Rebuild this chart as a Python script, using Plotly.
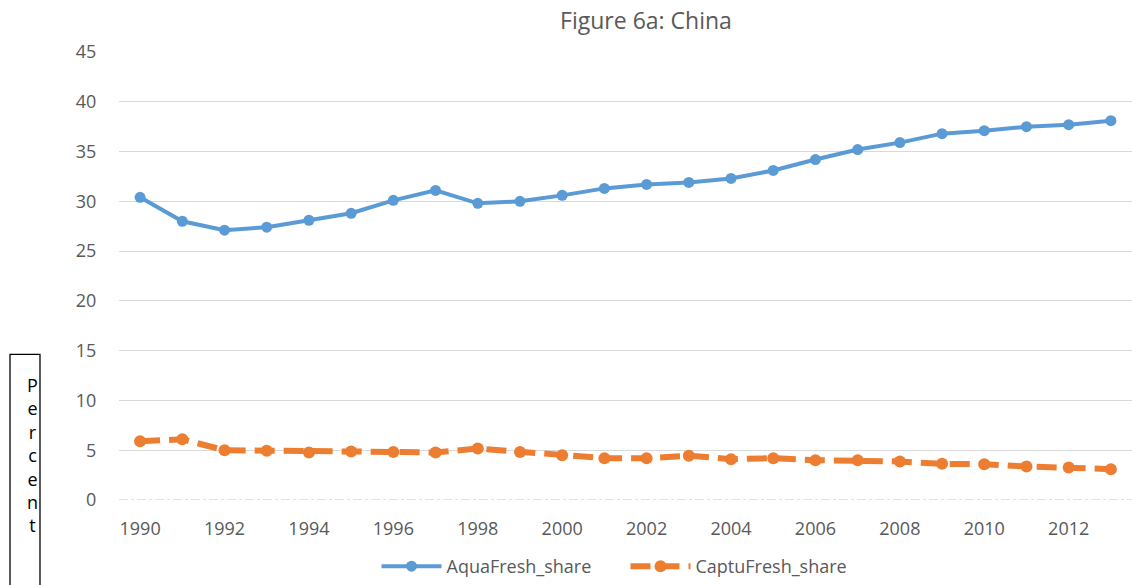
import plotly.graph_objects as go

years = list(range(1990, 2014))
aqua_share = [30.4, 28.0, 27.1, 27.4, 28.1, 28.8, 30.1, 31.1, 29.8, 30.0, 30.6, 31.3,
              31.7, 31.9, 32.3, 33.1, 34.2, 35.2, 35.9, 36.8, 37.1, 37.5, 37.7, 38.1]
captu_share = [5.9, 6.1, 5.0, 4.95, 4.77, 4.87, 4.83, 4.77, 5.17, 4.83, 4.5, 4.2,
               4.2, 4.45, 4.1, 4.2, 4.0, 4.0, 3.87, 3.63, 3.6, 3.37, 3.27, 3.1]
x_ticks = list(range(1990, 2014, 2))
y_ticks = list(range(0, 50, 5))

BLUE = "#5B9BD5"
ORANGE = "#ED7D31"
GRAY = "#595959"
FONT = "Open Sans"

fig = go.Figure()
fig.add_trace(go.Scatter(
    x=years, y=aqua_share, name="AquaFresh_share", mode="lines+markers",
    line=dict(color=BLUE, width=4), marker=dict(color=BLUE, size=11)))
fig.add_trace(go.Scatter(
    x=years, y=captu_share, name="CaptuFresh_share", mode="lines+markers",
    line=dict(color=ORANGE, width=6, dash="20px,9px"), marker=dict(color=ORANGE, size=12)))

# dash-dot baseline at zero
fig.add_shape(type="line", xref="paper", yref="y", x0=0, x1=1, y0=0, y1=0,
              line=dict(color="#D9D9D9", width=1.5, dash="dashdot"), layer="below")
# "Percent" box
fig.add_shape(type="rect", xref="paper", yref="paper", x0=-0.1076, x1=-0.078,
              y0=-0.21, y1=0.325, line=dict(color="black", width=1.3), fillcolor="white")
fig.add_annotation(xref="paper", yref="paper", x=-0.0928, y=0.288, yanchor="top",
                   text="<br>".join(list("Percent")), showarrow=False,
                   font=dict(family=FONT, size=18, color="black"), align="center")

fig.update_layout(
    width=1132, height=585,
    margin=dict(l=119, r=0, t=52, b=84),
    paper_bgcolor="white", plot_bgcolor="white",
    font=dict(family=FONT, color=GRAY),
    title=dict(text="Figure 6a: China", x=646 / 1132, xanchor="center",
               y=1 - 21 / 585, yanchor="middle", font=dict(size=23, color=GRAY)),
    showlegend=True,
    legend=dict(orientation="h", x=0.5, xanchor="center", y=-0.149, yanchor="middle",
                font=dict(size=18, color=GRAY), itemwidth=60, traceorder="normal",
                entrywidth=174, entrywidthmode="pixels"),
    xaxis=dict(range=[1989.5, 2013.5], tickvals=x_ticks, ticktext=[str(v) for v in x_ticks],
               showgrid=False, zeroline=False, showline=False,
               tickfont=dict(size=18, color=GRAY), ticks="outside", ticklen=12,
               tickcolor="rgba(0,0,0,0)"),
    yaxis=dict(range=[0, 45], tickvals=y_ticks, showgrid=True, gridcolor="#D9D9D9",
               gridwidth=1.3, zeroline=True, zerolinecolor="rgba(0,0,0,0)",
               showline=False, tickfont=dict(size=18, color=GRAY),
               ticks="outside", ticklen=18, tickcolor="rgba(0,0,0,0)"),
)

fig.write_html("out.html")
